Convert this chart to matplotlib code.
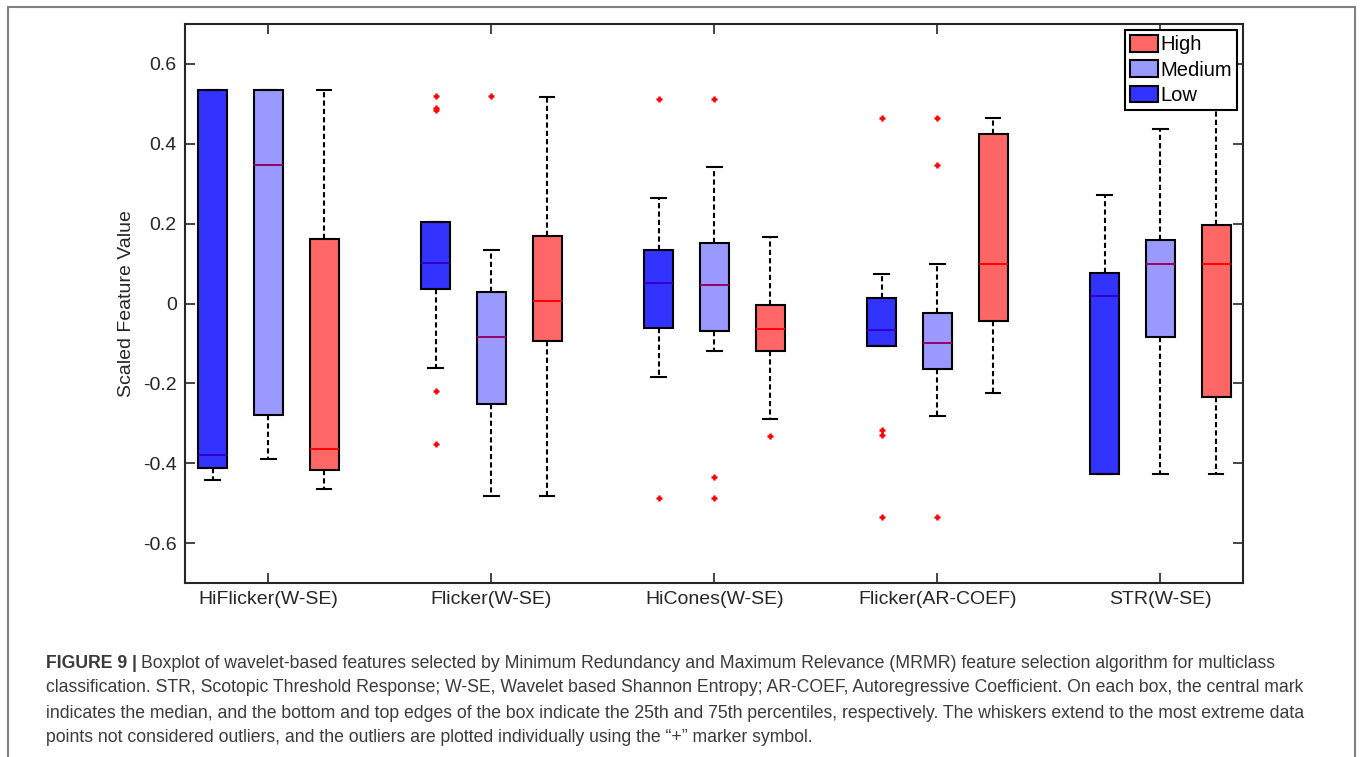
import matplotlib
matplotlib.use("Agg")
import matplotlib.pyplot as plt
import matplotlib.patches as mpatches
import numpy as np

plt.rcParams['font.family'] = ['Liberation Sans', 'DejaVu Sans']
plt.rcParams['axes.unicode_minus'] = False

# Features (x categories)
features = ["HiFlicker(W-SE)", "Flicker(W-SE)", "HiCones(W-SE)", "Flicker(AR-COEF)", "STR(W-SE)"]

# Low class box statistics
low_whislo = [-0.443, -0.162, -0.184, -0.107, -0.428]
low_q1 = [-0.4125, 0.0375, -0.062, -0.107, -0.428]
low_med = [-0.379, 0.1015, 0.051, -0.067, 0.019]
low_q3 = [0.534, 0.203, 0.133, 0.014, 0.076]
low_whishi = [0.534, 0.203, 0.263, 0.075, 0.272]
low_fliers = [[], [0.519, 0.490, 0.485, -0.219, -0.351], [0.5125, -0.488],
              [0.465, -0.316, -0.3285, -0.535], []]

# Medium class box statistics
med_whislo = [-0.389, -0.481, -0.119, -0.282, -0.427]
med_q1 = [-0.2785, -0.251, -0.070, -0.164, -0.084]
med_med = [0.3475, -0.0835, 0.046, -0.099, 0.098]
med_q3 = [0.534, 0.030, 0.1525, -0.024, 0.160]
med_whishi = [0.534, 0.134, 0.3425, 0.100, 0.4375]
med_fliers = [[], [0.519], [0.5125, -0.435, -0.488], [0.465, 0.3475, -0.535], []]

# High class box statistics
high_whislo = [-0.464, -0.481, -0.289, -0.224, -0.427]
high_q1 = [-0.417, -0.094, -0.119, -0.045, -0.2334]
high_med = [-0.364, 0.006, -0.064, 0.099, 0.099]
high_q3 = [0.161, 0.170, -0.0035, 0.4257, 0.196]
high_whishi = [0.534, 0.518, 0.1675, 0.464, 0.52]
high_fliers = [[], [], [-0.331], [], []]

groups = [
    ("Low", -0.25, "#3333ff", "#3300cc",
     low_whislo, low_q1, low_med, low_q3, low_whishi, low_fliers),
    ("Medium", 0.0, "#9999ff", "#990066",
     med_whislo, med_q1, med_med, med_q3, med_whishi, med_fliers),
    ("High", 0.25, "#ff6666", "#ff0000",
     high_whislo, high_q1, high_med, high_q3, high_whishi, high_fliers),
]

fig = plt.figure(figsize=(13.6, 7.57), dpi=100)
ax = fig.add_axes([185 / 1360, 1 - 583 / 757, (1243 - 185) / 1360, (583 - 24) / 757])

x = np.arange(1, len(features) + 1)
handles = {}
for name, off, fc, mc, wlo, q1, md, q3, whi, fl in groups:
    stats = [dict(whislo=wlo[i], q1=q1[i], med=md[i], q3=q3[i], whishi=whi[i], fliers=fl[i])
             for i in range(len(features))]
    ax.bxp(stats, positions=x + off, widths=0.13, patch_artist=True, manage_ticks=False,
           boxprops=dict(facecolor=fc, edgecolor="black", linewidth=1.5),
           medianprops=dict(color=mc, linewidth=1.4),
           whiskerprops=dict(color="black", linewidth=1.5, linestyle=(0, (2.5, 1.5))),
           capprops=dict(color="black", linewidth=1.5),
           flierprops=dict(marker="+", markeredgecolor="red", markersize=5,
                           markeredgewidth=1.8, linestyle="none"))
    handles[name] = mpatches.Patch(facecolor=fc, edgecolor="black", linewidth=1.5, label=name)

ax.set_xlim(0.6265, 5.371)
ax.set_ylim(-0.7, 0.7)
ax.set_xticks(x)
ax.set_xticklabels(features)
yt = [-0.6, -0.4, -0.2, 0, 0.2, 0.4, 0.6]
ax.set_yticks(yt)
ax.set_yticklabels(["-0.6", "-0.4", "-0.2", "0", "0.2", "0.4", "0.6"])
ax.tick_params(direction="in", length=7, width=1.2, top=True, right=True,
               labelsize=14, pad=6, colors="#262626")
ax.set_ylabel("Scaled Feature Value", fontsize=14, labelpad=6, color="#262626")
for s in ax.spines.values():
    s.set_linewidth(1.5)
    s.set_color("#262626")

leg = ax.legend(handles=[handles["High"], handles["Medium"], handles["Low"]],
                loc="upper right", fontsize=14.5, frameon=True, fancybox=False,
                edgecolor="black", framealpha=1, borderaxespad=0.3,
                handlelength=1.4, handleheight=0.9, handletextpad=0.12,
                labelspacing=0.3, borderpad=0.25)
leg.get_frame().set_linewidth(1.5)

# outer frame of the figure panel
fig.add_artist(mpatches.Rectangle((8 / 1360, -0.02), (1355 - 8) / 1360, 1.02 - 7 / 757,
                                  transform=fig.transFigure, fill=False,
                                  edgecolor="#808080", linewidth=1.5))

# caption
cap_font = ["Liberation Sans", "DejaVu Sans"]
cap_color = "#3a3a3a"
cap_size = 12.7
bold = fig.text(46 / 1360, 1 - 663 / 757, "FIGURE 9 |", fontweight="bold", fontsize=cap_size,
                va="center", ha="left", family=cap_font, color=cap_color)
ax.annotate("Boxplot of wavelet-based features selected by Minimum Redundancy and Maximum "
            "Relevance (MRMR) feature selection algorithm for multiclass",
            xy=(1, 0.5), xycoords=bold, xytext=(3, 0), textcoords="offset points",
            va="center", ha="left", fontsize=cap_size, family=cap_font, color=cap_color,
            annotation_clip=False)
cap_lines = [
    "classification. STR, Scotopic Threshold Response; W-SE, Wavelet based Shannon Entropy; "
    "AR-COEF, Autoregressive Coefficient. On each box, the central mark",
    "indicates the median, and the bottom and top edges of the box indicate the 25th and 75th "
    "percentiles, respectively. The whiskers extend to the most extreme data",
    "points not considered outliers, and the outliers are plotted individually using the "
    "\u201c+\u201d marker symbol.",
]
for i, line in enumerate(cap_lines):
    fig.text(46 / 1360, 1 - (688 + 25 * i) / 757, line, fontsize=cap_size, va="center",
             ha="left", family=cap_font, color=cap_color)

fig.savefig("out.png", dpi=100)
